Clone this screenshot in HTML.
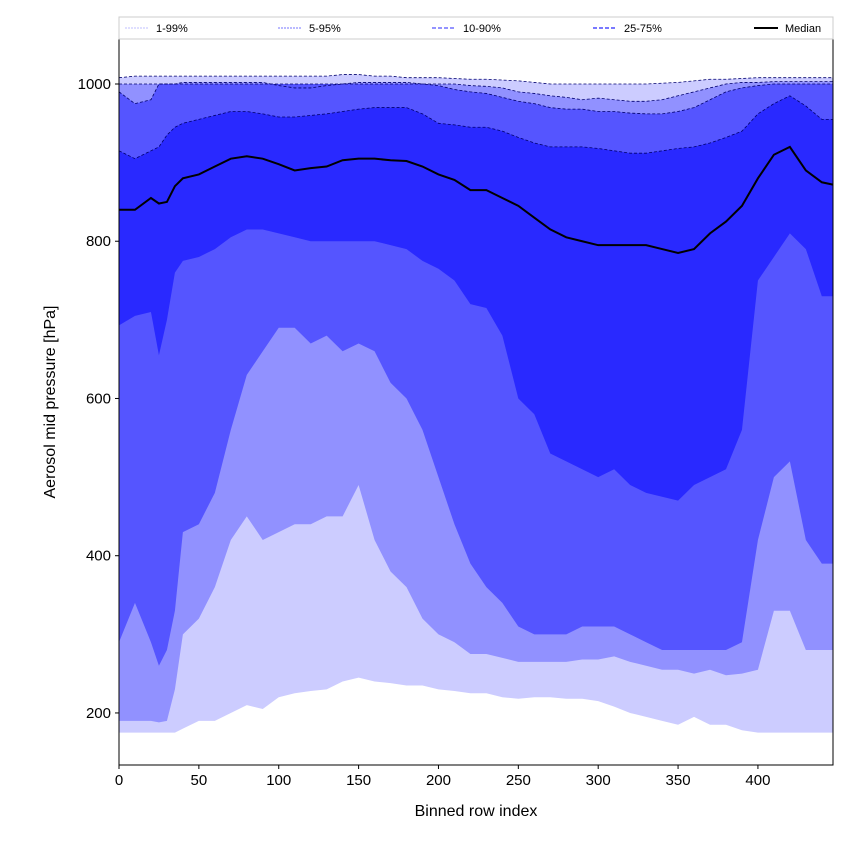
<!DOCTYPE html>
<html><head><meta charset="utf-8">
<style>
body{margin:0;background:#fff;}
svg text{font-family:"Liberation Sans","DejaVu Sans",sans-serif;}
</style></head>
<body>
<svg id="chart" width="850" height="850" viewBox="0 0 850 850">
<g id="bands"></g>
<g id="axes"></g>
<g id="legend"></g>
</svg>
<script>
const rowIndex = [0,10,20,25,30,35,40,50,60,70,80,90,100,110,120,130,140,150,160,170,180,190,200,210,220,230,240,250,260,270,280,290,300,310,320,330,340,350,360,370,380,390,400,410,420,430,440,447];
const p01 = [175,175,175,175,175,175,180,190,190,200,210,205,220,225,228,230,240,245,240,238,235,235,230,228,225,225,220,218,220,220,218,218,215,208,200,195,190,185,195,185,185,178,175,175,175,175,175,175];
const p05 = [190,190,190,188,190,230,300,320,360,420,450,420,430,440,440,450,450,490,420,380,360,320,300,290,275,275,270,265,265,265,265,268,268,272,265,260,255,255,250,255,248,250,255,330,330,280,280,280];
const p10 = [290,340,290,260,280,330,430,440,480,560,630,660,690,690,670,680,660,670,660,620,600,560,500,440,390,360,340,310,300,300,300,310,310,310,300,290,280,280,280,280,280,290,420,500,520,420,390,390];
const p25 = [693,705,710,655,700,760,775,780,790,805,815,815,810,805,800,800,800,800,800,795,790,775,765,750,720,715,680,600,580,530,520,510,500,510,490,480,475,470,490,500,510,560,750,780,810,790,730,730];
const p50 = [840,840,855,848,850,870,880,885,895,905,908,905,898,890,893,895,903,905,905,903,902,895,885,878,865,865,855,845,830,815,805,800,795,795,795,795,790,785,790,810,825,845,880,910,920,890,875,872];
const p75 = [915,905,915,920,935,945,950,955,960,965,965,962,958,958,960,962,965,968,970,970,970,962,950,948,945,945,940,932,925,920,920,920,918,915,912,912,915,918,920,925,932,940,962,975,985,972,955,955];
const p90 = [990,975,980,1000,1000,1000,1000,1000,1000,1000,1000,1000,1000,1000,1000,1000,1000,1000,1000,1000,1000,1000,998,993,990,988,983,978,975,970,968,968,965,965,963,962,962,965,970,980,990,995,998,1000,1000,1000,1000,1000];
const p95 = [1000,1000,1000,1000,1000,1000,1002,1002,1002,1002,1002,1002,998,995,995,998,1000,1002,1002,1002,1002,1000,1000,1000,998,997,995,990,988,985,983,980,982,980,978,978,980,985,990,995,1000,1002,1002,1003,1003,1003,1003,1003];
const p99 = [1008,1010,1010,1010,1010,1010,1010,1010,1010,1010,1010,1010,1010,1010,1010,1010,1012,1012,1010,1010,1008,1008,1008,1007,1006,1006,1005,1004,1002,1000,1000,1000,1000,1000,1000,1000,1001,1002,1004,1006,1006,1007,1008,1008,1008,1008,1008,1008];
const xTicks = [0,50,100,150,200,250,300,350,400];
const yTicks = [200,400,600,800,1000];
const legendLabels = ["1-99%","5-95%","10-90%","25-75%","Median"];

const L=119,R=833,T=38,B=765;
const X0=0,X1=447,Y0=133.8,Y1=1058.5;
const sx=v=>L+(v-X0)/(X1-X0)*(R-L);
const sy=v=>B-(v-Y0)/(Y1-Y0)*(B-T);
const NS="http://www.w3.org/2000/svg";
function mk(tag,attrs,parent){const e=document.createElementNS(NS,tag);for(const k in attrs)e.setAttribute(k,attrs[k]);parent.appendChild(e);return e;}
const bands=document.getElementById('bands');
const axes=document.getElementById('axes');
const legend=document.getElementById('legend');
const pts=arr=>arr.map((v,i)=>sx(rowIndex[i]).toFixed(2)+","+sy(v).toFixed(2));
function band(lo,hi,color,name){
  const p=pts(hi).concat(pts(lo).reverse()).join(" ");
  const el=mk('polygon',{points:p,fill:color,stroke:'none'},bands);
  
  
}
function line(arr,color,w,dash,name){
  const el=mk('polyline',{points:pts(arr).join(" "),fill:'none',stroke:color,'stroke-width':w,'stroke-dasharray':dash||'none'},bands);
  
  
}
const cp=mk('clipPath',{id:'clip'},bands);mk('rect',{x:L,y:T,width:R-L,height:B-T},cp);
bands.setAttribute('clip-path','url(#clip)');
band(p01,p99,'#ccccff','band-1-99');
band(p05,p95,'#9191ff','band-5-95');
band(p10,p90,'#5555ff','band-10-90');
band(p25,p75,'#2929ff','band-25-75');
line(p99,'#00006e',0.8,'3,2','line-p99');
line(p95,'#00006e',0.8,'3,2','line-p95');
line(p90,'#00006e',0.8,'3,2','line-p90');
line(p75,'#00006e',0.8,'3,2','line-p75');
line(p50,'#000000',2,null,'median-line');

// frame
const fr=mk('rect',{x:L,y:T,width:R-L,height:B-T,fill:'none',stroke:'#000','stroke-width':1},axes);

xTicks.forEach(t=>{
  const x=sx(t);
  mk('line',{x1:x,x2:x,y1:B,y2:B+4,stroke:'#000'},axes);
  const tx=mk('text',{x:x,y:B+20,'text-anchor':'middle','font-size':15},axes);tx.textContent=t;
  
});
yTicks.forEach(t=>{
  const y=sy(t);
  mk('line',{x1:L-4,x2:L,y1:y,y2:y,stroke:'#000'},axes);
  const tx=mk('text',{x:L-8,y:y+5,'text-anchor':'end','font-size':15},axes);tx.textContent=t;
  
});
const xt=mk('text',{x:(L+R)/2,y:816,'text-anchor':'middle','font-size':16},axes);xt.textContent='Binned row index';

const yt=mk('text',{x:0,y:0,'text-anchor':'middle','font-size':16,transform:'translate(55,402) rotate(-90)'},axes);yt.textContent='Aerosol mid pressure [hPa]';


// legend
const lb=mk('rect',{x:119,y:17,width:714,height:22,fill:'#fff',stroke:'#ccc','stroke-width':1},legend);

const legColors=['#ccccff','#9191ff','#5555ff','#2929ff','#000'];
const legDash=['2,1','2,1','4,2','4,2','none'];
const legX=[125,278,432,593,754];
legendLabels.forEach((lab,i)=>{
  const g=mk('g',{},legend);
  
  mk('line',{x1:legX[i],x2:legX[i]+24,y1:28,y2:28,stroke:legColors[i],'stroke-width':i==4?2:1.2,'stroke-dasharray':legDash[i]},g);
  const t=mk('text',{x:legX[i]+31,y:32,'font-size':11},g);t.textContent=lab;
});
</script>
</body></html>
